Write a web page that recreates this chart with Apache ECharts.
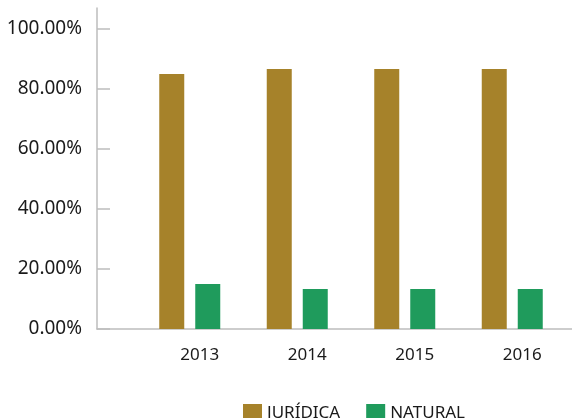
<!DOCTYPE html>
<html>
<head>
<meta charset="utf-8">
<script src="https://cdn.jsdelivr.net/npm/echarts@6/dist/echarts.min.js"></script>
<style>
  html, body { margin: 0; padding: 0; background: #fff; }
  #chart { width: 572px; height: 418px; }
</style>
</head>
<body>
<div id="chart"></div>
<script>
// values (percent)
var years = ['2013', '2014', '2015', '2016'];
var juridica = [85.0, 86.7, 86.7, 86.7];
var natural = [15.0, 13.3, 13.3, 13.3];

var axisGray = '#bdbdbd';
var textColor = '#1a1a1a';
var fontFamily = '"Noto Sans", sans-serif';

var myChart = echarts.init(document.getElementById('chart'), null, { renderer: 'canvas' });

var option = {
  backgroundColor: '#fff',
  animation: false,
  textStyle: { fontFamily: fontFamily },
  legend: {
    data: ['JURÍDICA', 'NATURAL'],
    left: 238,
    top: 399,
    itemWidth: 19,
    itemHeight: 18,
    itemGap: 26,
    icon: 'rect',
    textStyle: { fontSize: 17, color: textColor, fontFamily: fontFamily }
  },
  grid: [
    // frame: the axis lines run past the plot area
    { left: 97, right: 0, top: 8, bottom: 89 },
    // plot area
    { left: 136, right: 6, top: 29, bottom: 89 }
  ],
  xAxis: [
    {
      gridIndex: 0, type: 'value', min: 0, max: 1,
      axisLine: { show: true, lineStyle: { color: axisGray, width: 1.5 } },
      axisTick: { show: false }, axisLabel: { show: false }, splitLine: { show: false }
    },
    {
      gridIndex: 1, type: 'category', data: years,
      axisLine: { show: false }, axisTick: { show: false },
      axisLabel: {
        color: textColor, fontSize: 17, margin: 18,
        padding: [0, 0, 0, 20], fontFamily: fontFamily
      }
    }
  ],
  yAxis: [
    {
      gridIndex: 0, type: 'value', min: 0, max: 1,
      axisLine: { show: true, lineStyle: { color: axisGray, width: 1.5 } },
      axisTick: { show: false }, axisLabel: { show: false }, splitLine: { show: false }
    },
    {
      gridIndex: 1, type: 'value', min: 0, max: 100, interval: 20, offset: 39,
      axisLine: { show: false },
      axisTick: { show: true, inside: true, length: 13, lineStyle: { color: axisGray, width: 1.5 } },
      splitLine: { show: false },
      axisLabel: {
        color: textColor, fontSize: 19, margin: 15, fontFamily: fontFamily,
        formatter: function (v) { return v.toFixed(2) + '%'; }
      }
    }
  ],
  series: [
    {
      name: 'JURÍDICA', type: 'bar', xAxisIndex: 1, yAxisIndex: 1,
      data: juridica, barWidth: 25, barGap: '44%',
      itemStyle: { color: '#a6822a' }
    },
    {
      name: 'NATURAL', type: 'bar', xAxisIndex: 1, yAxisIndex: 1,
      data: natural, barWidth: 25,
      itemStyle: { color: '#1f9b5c' }
    }
  ]
};

myChart.setOption(option);
</script>
</body>
</html>
